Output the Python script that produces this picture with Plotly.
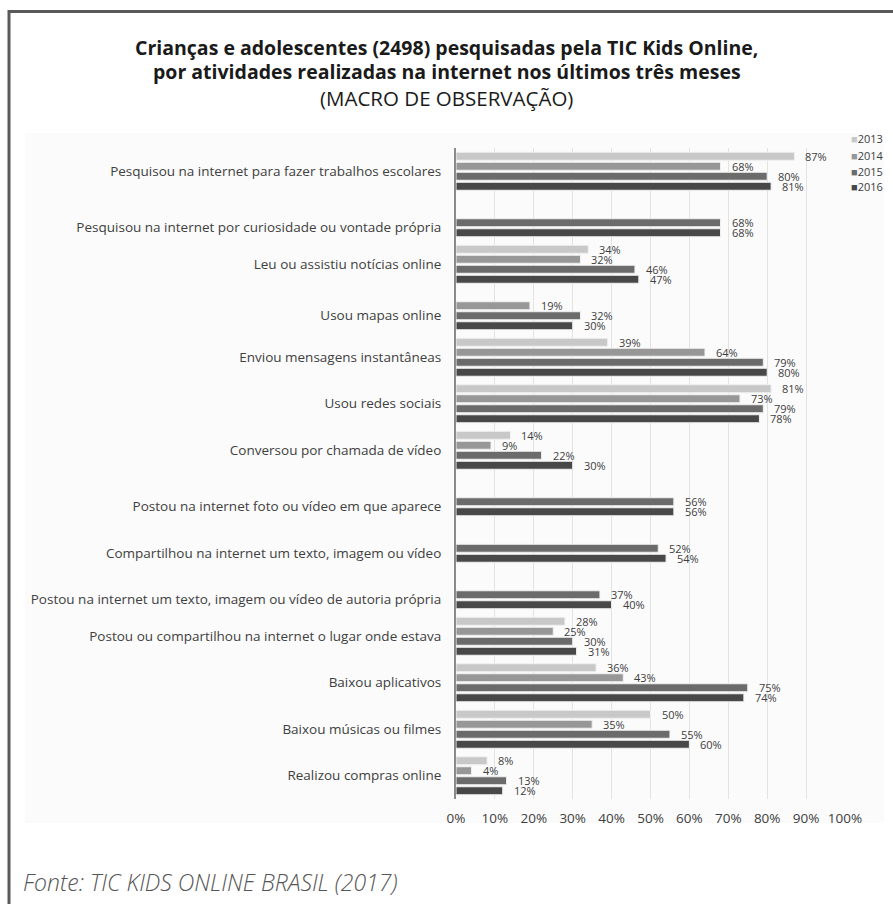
import plotly.graph_objects as go

categories = [
    "Pesquisou na internet para fazer trabalhos escolares",
    "Pesquisou na internet por curiosidade ou vontade própria",
    "Leu ou assistiu notícias online",
    "Usou mapas online",
    "Enviou mensagens instantâneas",
    "Usou redes sociais",
    "Conversou por chamada de vídeo",
    "Postou na internet foto ou vídeo em que aparece",
    "Compartilhou na internet um texto, imagem ou vídeo",
    "Postou na internet um texto, imagem ou vídeo de autoria própria",
    "Postou ou compartilhou na internet o lugar onde estava",
    "Baixou aplicativos",
    "Baixou músicas ou filmes",
    "Realizou compras online",
]
years = ["2013", "2014", "2015", "2016"]
v2013 = [87, None, 34, None, 39, 81, 14, None, None, None, 28, 36, 50, 8]
v2014 = [68, None, 32, 19, 64, 73, 9, None, None, None, 25, 43, 35, 4]
v2015 = [80, 68, 46, 32, 79, 79, 22, 56, 52, 37, 30, 75, 55, 13]
v2016 = [81, 68, 47, 30, 80, 78, 30, 56, 54, 40, 31, 74, 60, 12]
series = [v2013, v2014, v2015, v2016]
colors = ["#c8c8c8", "#979797", "#6b6b6b", "#484848"]
x_ticks = list(range(0, 101, 10))
x_ticktext = [f"{t}%" for t in x_ticks]

W, H = 893, 904
PL, PR, PT, PB = 456, 845, 148, 799
BARGAP = 0.14
slot = (1 - BARGAP) / len(years)
FONT = "Open Sans"
TXT = "#404040"


def px_x(px):
    return (px - PL) / (PR - PL)


def px_y(py):
    return (PB - py) / (PB - PT)


idx = list(range(len(categories)))
fig = go.Figure()
for name, vals, col in zip(years, series, colors):
    fig.add_trace(go.Bar(
        y=idx, x=vals, name=name, orientation="h",
        marker=dict(color=col, line=dict(color="#f0f0f0", width=1)),
        showlegend=False, hoverinfo="x+name",
    ))

annotations = []
# data labels
for s, vals in enumerate(series):
    off = (s - (len(years) - 1) / 2) * slot
    for i, v in enumerate(vals):
        if v is None:
            continue
        annotations.append(dict(
            x=v, y=i + off, xref="x", yref="y", text=f"{v}%",
            showarrow=False, xanchor="left", yanchor="middle", xshift=9,
            font=dict(family=FONT, size=11, color=TXT),
        ))

# category label positions: centre of the bars present in each group
tickvals = []
for i in idx:
    offs = [(s - (len(years) - 1) / 2) * slot for s, vals in enumerate(series) if vals[i] is not None]
    tickvals.append(i + sum(offs) / len(offs))

# legend
leg_y = [139, 155, 171, 186]
for name, col, py in zip(years, colors, leg_y):
    annotations.append(dict(
        x=px_x(849), y=px_y(py), xref="paper", yref="paper",
        text=f"<span style='color:{col}'>■</span>{name}",
        showarrow=False, xanchor="left", yanchor="middle",
        font=dict(family=FONT, size=11, color=TXT),
    ))

CX = px_x(W / 2)
# titles
annotations += [
    dict(x=CX, y=px_y(47), xref="paper", yref="paper", showarrow=False,
         text="<b>Crianças e adolescentes (2498) pesquisadas pela TIC Kids Online,</b>",
         font=dict(family=FONT, size=19.5, color="#1a1a1a"), xanchor="center", yanchor="middle"),
    dict(x=CX, y=px_y(72), xref="paper", yref="paper", showarrow=False,
         text="<b>por atividades realizadas na internet nos últimos três meses</b>",
         font=dict(family=FONT, size=19.5, color="#1a1a1a"), xanchor="center", yanchor="middle"),
    dict(x=CX, y=px_y(98), xref="paper", yref="paper", showarrow=False,
         text="(MACRO DE OBSERVAÇÃO)",
         font=dict(family=FONT, size=20.5, color="#1a1a1a"), xanchor="center", yanchor="middle"),
    dict(x=px_x(21), y=px_y(882), xref="paper", yref="paper", showarrow=False,
         text="<i>Fonte: TIC KIDS ONLINE BRASIL (2017)</i>",
         font=dict(family=FONT, size=23, color="#555555", weight=300), xanchor="left", yanchor="middle"),
]

shapes = [
    dict(type="rect", xref="paper", yref="paper",
         x0=px_x(25), x1=px_x(884), y0=px_y(823), y1=px_y(133),
         fillcolor="#fbfbfb", line=dict(width=0), layer="below"),
    dict(type="rect", xref="paper", yref="paper",
         x0=px_x(9), x1=px_x(W + 20), y0=px_y(H + 20), y1=px_y(11.5),
         fillcolor="rgba(0,0,0,0)", line=dict(color="#5a5a5a", width=3)),
]

fig.update_layout(
    width=W, height=H,
    margin=dict(l=PL, r=W - PR, t=PT, b=H - PB, pad=0),
    paper_bgcolor="white", plot_bgcolor="rgba(0,0,0,0)",
    barmode="group", bargap=BARGAP, bargroupgap=0.2,
    font=dict(family=FONT, color=TXT),
    xaxis=dict(range=[0, 100], tickvals=x_ticks, ticktext=x_ticktext,
               showgrid=True, gridcolor="#e3e3e3", gridwidth=1, zeroline=False,
               showline=False, ticks="", ticklabelstandoff=9,
               tickfont=dict(family=FONT, size=13.5, color=TXT), fixedrange=True),
    yaxis=dict(range=[len(categories) - 0.5, -0.5], tickvals=tickvals, ticktext=categories,
               showgrid=False, zeroline=False, showline=True, linecolor="#8a8a8a", linewidth=2,
               ticks="", ticklabelstandoff=10,
               tickfont=dict(family=FONT, size=13.5, color=TXT), fixedrange=True),
    annotations=annotations, shapes=shapes,
    showlegend=False,
)

fig.write_html("out.html")
